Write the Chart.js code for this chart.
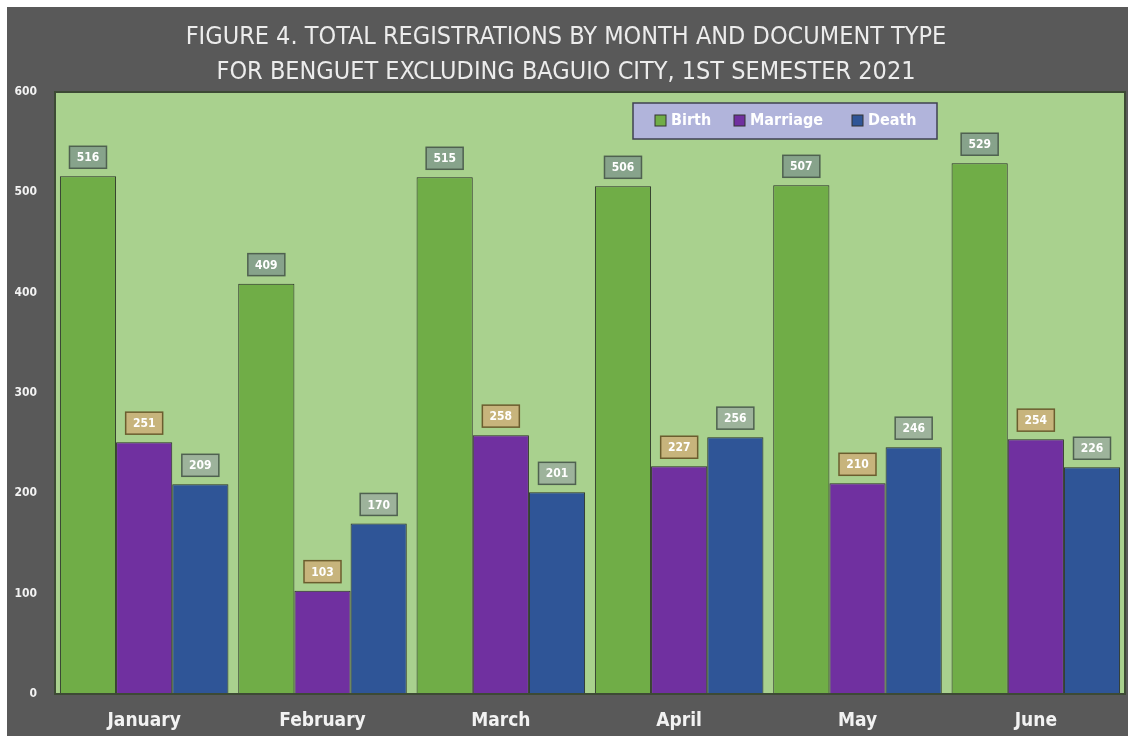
<!DOCTYPE html>
<html>
<head>
<meta charset="utf-8">
<script src="https://cdn.jsdelivr.net/npm/chart.js@4/dist/chart.umd.min.js"></script>
<style>
  html, body { margin:0; padding:0; background:#fff; }
  #wrap { position:absolute; left:7px; top:7px; width:1121px; height:729px; background:#595959; }
  canvas { display:block; }
</style>
</head>
<body>
<div id="wrap"><canvas id="regChart" width="1121" height="729"></canvas></div>
<script>
const months = ['January','February','March','April','May','June']
const birth = [516, 409, 515, 506, 507, 529]
const marriage = [251, 103, 258, 227, 210, 254]
const death = [209, 170, 201, 256, 246, 226]
const yTicks = [0, 100, 200, 300, 400, 500, 600]

const FONT = "'Liberation Sans Narrow', 'DejaVu Sans Condensed', 'Liberation Sans', sans-serif"
const labelFill = ['#87a38b', '#c7b47c', '#9db39b']

// plot area background + frame
const plotBg = {
  id:'plotBg',
  beforeDatasetsDraw(chart) {
    const {ctx, chartArea:a} = chart
    ctx.save()
    ctx.fillStyle = '#a9d18e'
    ctx.fillRect(a.left, a.top, a.right - a.left, a.bottom - a.top)
    ctx.restore()
  },
  afterDatasetsDraw(chart) {
    const {ctx, chartArea:a} = chart
    ctx.save()
    ctx.strokeStyle = '#3d4a35'
    ctx.lineWidth = 2
    ctx.strokeRect(a.left, a.top, a.right - a.left, a.bottom - a.top)
    ctx.restore()
  }
}

// boxed value labels above every bar
const valueBoxes = {
  id:'valueBoxes',
  afterDatasetsDraw(chart) {
    const ctx = chart.ctx
    ctx.save()
    ctx.font = 'bold 12px ' + FONT
    ctx.textAlign = 'center'
    ctx.textBaseline = 'middle'
    chart.data.datasets.forEach((ds, di) => {
      chart.getDatasetMeta(di).data.forEach((bar, i) => {
        const w = 37, h = 22
        const x = bar.x - w/2, y = bar.y - 8 - h
        ctx.fillStyle = labelFill[di]
        ctx.fillRect(x, y, w, h)
        ctx.strokeStyle = di === 1 ? '#6b5d2e' : '#4f6150'
        ctx.lineWidth = 1.5
        ctx.strokeRect(x, y, w, h)
        ctx.fillStyle = '#ffffff'
        ctx.fillText(String(ds.data[i]), bar.x, y + h/2 + 1)
      })
    })
    ctx.restore()
  }
}

// legend box inside the plot, top right
const boxLegend = {
  id:'boxLegend',
  afterDraw(chart) {
    const {ctx, chartArea:a} = chart
    const x0 = a.right - 492, y0 = a.top + 11, w = 304, h = 36
    ctx.save()
    ctx.fillStyle = '#b1b4db'
    ctx.fillRect(x0, y0, w, h)
    ctx.strokeStyle = '#3f4152'
    ctx.lineWidth = 1.5
    ctx.strokeRect(x0, y0, w, h)
    ctx.font = 'bold 16px ' + FONT
    ctx.textBaseline = 'middle'
    const offs = [22, 101, 219]
    chart.data.datasets.forEach((ds, di) => {
      const sx = x0 + offs[di], sy = y0 + h/2
      ctx.fillStyle = ds.backgroundColor
      ctx.fillRect(sx, sy - 6, 11, 11)
      ctx.strokeStyle = '#333'
      ctx.lineWidth = 1
      ctx.strokeRect(sx, sy - 6, 11, 11)
      ctx.fillStyle = '#ffffff'
      ctx.fillText(ds.label, sx + 16, sy)
    })
    ctx.restore()
  }
}

function initChart() {
  const el = document.getElementById('regChart')
  if (!el) { console.error('canvas missing'); return }
  const common = { barPercentage:1, categoryPercentage:0.945, borderWidth:1, borderColor:'#2a2f28' }
  new Chart(el, {
    type:'bar',
    data:{
      labels: months,
      datasets:[
        {label:'Birth', data:birth, backgroundColor:'#70ad47', ...common},
        {label:'Marriage', data:marriage, backgroundColor:'#7030a0', ...common},
        {label:'Death', data:death, backgroundColor:'#2f5597', ...common}
      ]
    },
    options:{
      responsive:false,
      animation:false,
      layout:{padding:{left:0, right:3, top:0, bottom:0}},
      plugins:{
        legend:{display:false},
        tooltip:{enabled:false},
        title:{
          display:true,
          text:['FIGURE 4. TOTAL REGISTRATIONS BY MONTH AND DOCUMENT TYPE','FOR BENGUET EXCLUDING BAGUIO CITY, 1ST SEMESTER 2021'],
          color:'#ececec',
          font:{family:FONT, size:25, weight:'normal', lineHeight:1.4},
          padding:{top:13, bottom:2}
        }
      },
      scales:{
        x:{
          grid:{display:false, drawTicks:false},
          border:{display:false},
          ticks:{color:'#f2f2f2', font:{family:FONT, size:19, weight:'bold'}, padding:16},
          afterFit(s){ s.height = 42 }
        },
        y:{
          min:0, max:600,
          afterBuildTicks(s){ s.ticks = yTicks.map(v => ({value:v})) },
          grid:{display:false, drawTicks:false},
          border:{display:false},
          ticks:{color:'#f2f2f2', font:{family:FONT, size:12, weight:'bold'}, padding:18},
          afterFit(s){ s.width = 48 }
        }
      }
    },
    plugins:[plotBg, valueBoxes, boxLegend]
  })
}

document.addEventListener('DOMContentLoaded', initChart)
</script>
</body>
</html>
